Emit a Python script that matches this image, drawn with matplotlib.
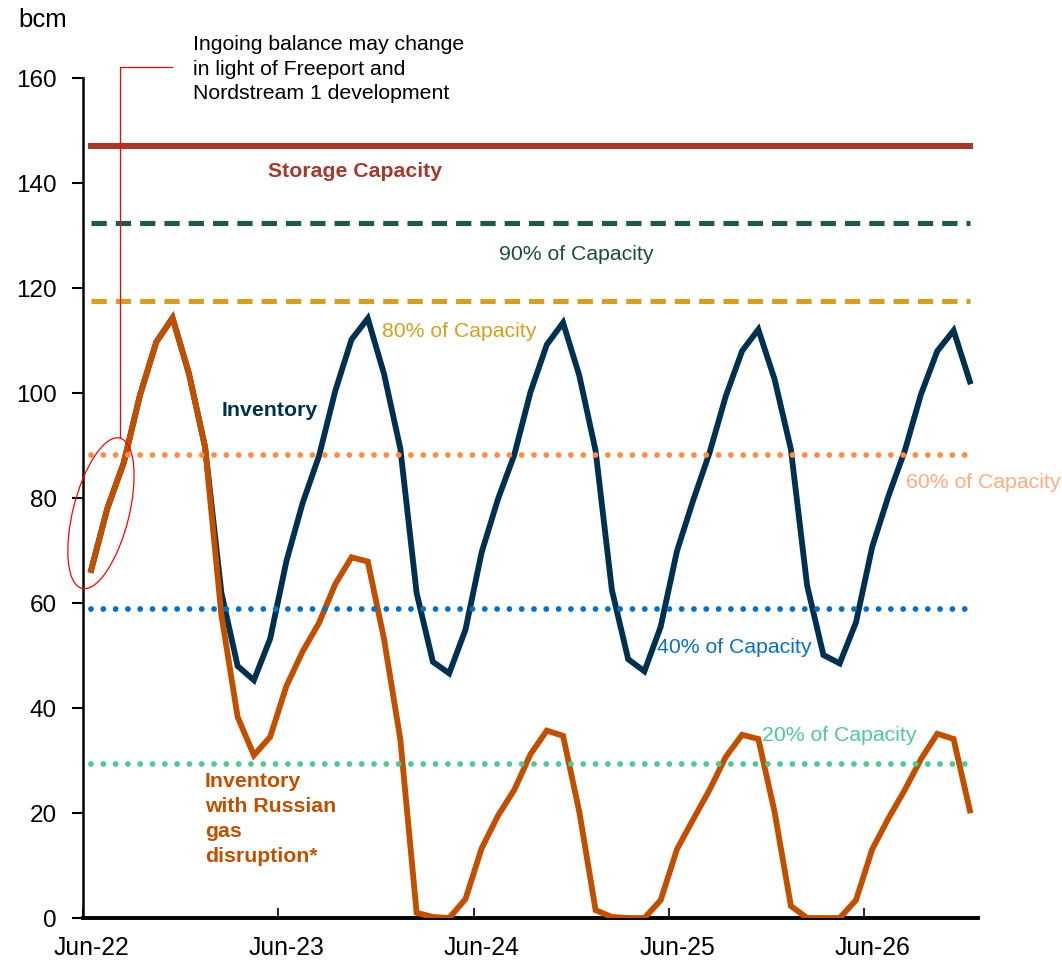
import numpy as np
import matplotlib
matplotlib.use('Agg')
import matplotlib.pyplot as plt
from matplotlib.patches import Ellipse
from matplotlib.transforms import ScaledTranslation

plt.rcParams['font.family'] = ['Liberation Sans', 'DejaVu Sans']
plt.rcParams['lines.scale_dashes'] = False

# Monthly storage outlook, Jun-22 .. Dec-26 (bcm)
inventory = [66.3, 78.1, 86.7, 99.6, 109.7, 114.3, 103.8, 89.7,
             62.0, 48.0, 45.3, 53.2, 68.0, 79.1, 88.0, 100.4, 110.2, 114.2,
             103.6, 89.4, 61.9, 48.8, 46.6, 54.9, 69.7, 79.8, 88.2, 100.2, 109.2, 113.4,
             103.3, 89.0, 62.5, 49.3, 47.0, 55.5, 69.9, 79.6, 88.6, 99.4, 108.0, 112.1,
             102.6, 89.3, 63.3, 50.1, 48.5, 56.3, 70.7, 80.4, 89.0, 99.8, 108.0, 111.9, 102.2]
inventory_disruption = [66.3, 78.1, 86.7, 99.6, 109.7, 114.3, 103.8, 89.7,
                        57.8, 38.3, 31.0, 34.5, 44.2, 50.8, 56.2, 63.6, 68.7, 67.9,
                        53.1, 34.0, 1.0, 0.2, 0.0, 3.6, 13.3, 19.5, 24.4, 31.2, 35.7, 34.7,
                        20.2, 1.5, 0.2, 0.0, 0.0, 3.4, 13.1, 18.8, 24.4, 30.7, 34.9, 34.1,
                        20.2, 2.3, 0.0, 0.0, 0.0, 3.4, 13.1, 19.0, 24.4, 30.3, 35.1, 34.1, 20.5]
storage_capacity = 147.0
capacity_shares = [0.9, 0.8, 0.6, 0.4, 0.2]
tick_labels = ['Jun-22', 'Jun-23', 'Jun-24', 'Jun-25', 'Jun-26']

# Colours
c_storage = '#A3392A'
c_inv = '#00304F'
c_dis = '#C04F00'
c_90 = '#1F5B43'
c_90_txt = '#1E4A46'
c_80 = '#D4A01E'
c_60 = '#FF8C45'
c_60_txt = '#FFAA7F'
c_40 = '#0A70BE'
c_20 = '#52C893'

n = len(inventory)
x = np.arange(n) + 0.5
flat = np.ones(n)

fig = plt.figure(figsize=(10.62, 9.63), dpi=100)
ax = fig.add_axes([0.0782, 0.0467, 0.8427, 0.8723])

# Inventory paths
ax.plot(x, inventory, color=c_inv, lw=4.2, solid_joinstyle='miter', zorder=3)
ax.plot(x, inventory_disruption, color=c_dis, lw=4.2, solid_joinstyle='miter', zorder=4)

# Capacity levels
ax.plot(x, flat * storage_capacity, color=c_storage, lw=4.4, zorder=5)
dash = (0, (11, 6.5))
dot = (0, (0.01, 8.85))
styles = [(c_90, dash), (c_80, dash), (c_60, dot), (c_40, dot), (c_20, dot)]
for share, (col, ls) in zip(capacity_shares, styles):
    ax.plot(x, flat * storage_capacity * share, color=col,
            lw=4.2 if ls == dot else 3.7, linestyle=ls,
            dash_capstyle='round' if ls == dot else 'butt', zorder=5)

# Axes
ax.set_xlim(0, 55)
ax.set_ylim(0, 160)
ax.set_yticks(np.arange(0, 161, 20))
ax.set_xticks(np.arange(0, 55, 12))
ax.set_xticklabels([])
ax.set_xticks(np.arange(0, 55, 12) + 0.5, minor=True)
ax.set_xticklabels(tick_labels, minor=True)
ax.tick_params(axis='x', which='major', direction='in', length=7, width=1.2)
ax.tick_params(axis='x', which='minor', length=0, pad=13, labelsize=17.8)
ax.tick_params(axis='y', direction='out', length=8, width=1.5, pad=11, labelsize=17.5)
for s in ['top', 'right']:
    ax.spines[s].set_visible(False)
ax.spines['left'].set_linewidth(1.8)
ax.spines['bottom'].set_linewidth(2.8)

fig.text(18 / 1062, 1 - 20 / 963, 'bcm', fontsize=18.5, va='center', ha='left')

# Line labels
ax.text(16.7, 142.1, 'Storage Capacity', color=c_storage, fontsize=15.3,
        fontweight='bold', ha='center', va='center')
ax.text(30.3, 126.3, '90% of Capacity', color=c_90_txt, fontsize=15.3, ha='center', va='center')
ax.text(18.4, 111.8, '80% of Capacity', color=c_80, fontsize=15.3, ha='left', va='center')
ax.text(11.5, 96.6, 'Inventory', color=c_inv, fontsize=15.3, fontweight='bold',
        ha='center', va='center')
ax.text(50.6, 83.0, '60% of Capacity', color=c_60_txt, fontsize=15.3, ha='left',
        va='center', clip_on=False)
ax.text(35.3, 51.6, '40% of Capacity', color=c_40, fontsize=15.3, ha='left', va='center')
ax.text(41.7, 34.7, '20% of Capacity', color=c_20, fontsize=15.3, ha='left', va='center')
ax.text(7.5, 27.9, 'Inventory\nwith Russian\ngas\ndisruption*', color=c_dis,
        fontsize=15.3, fontweight='bold', ha='left', va='top', linespacing=1.4)

# Callout
ax.text(6.76, 161.7, 'Ingoing balance may change\nin light of Freeport and\nNordstream 1 development',
        fontsize=15.3, ha='left', va='center', linespacing=1.38, clip_on=False)
ax.plot([5.47, 2.27, 2.27], [162.1, 162.1, 91.4], color='red', lw=0.9,
        clip_on=False, zorder=6)
ell = Ellipse((0, 0), 1.55, 0.56, angle=75.8, fill=False, edgecolor='red', lw=0.9,
              transform=fig.dpi_scale_trans + ScaledTranslation(1.1, 77.1, ax.transData),
              clip_on=False, zorder=6)
ax.add_patch(ell)

fig.savefig('out.png', dpi=100)
